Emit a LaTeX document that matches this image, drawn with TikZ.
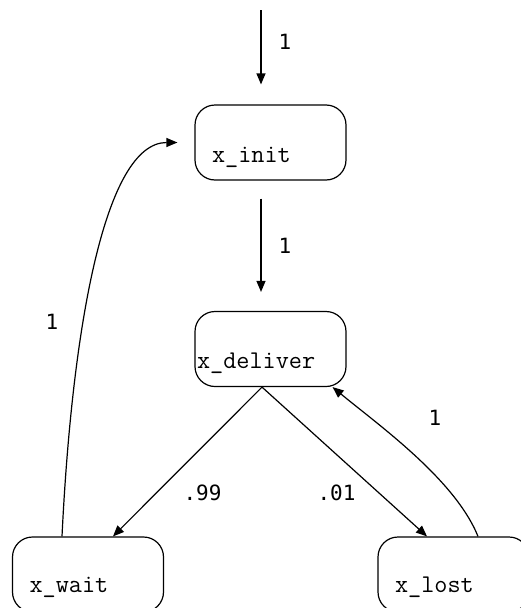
\documentclass[tikz,border=0pt]{standalone}
\usepackage{fontspec}
\usepackage{tikz}
\usetikzlibrary{calc,arrows.meta}
\newfontfamily\probfont{DejaVu Sans Mono}

\begin{document}
\begin{tikzpicture}[x=1pt,y=-1pt,line width=1.2pt,>={Triangle[length=11pt,width=9pt]}]
        \useasboundingbox (0,0) rectangle (520,608);
        \tikzstyle{statebox}=[draw,rectangle,rounded corners=20pt,minimum width=151pt,minimum height=75pt,inner sep=0pt]
        \tikzstyle{statetext}=[anchor=base west,inner sep=0pt,font=\ttfamily\fontsize{25.5}{30}\selectfont]
        \tikzstyle{prob}=[inner sep=0pt,font=\probfont\fontsize{21}{25}\selectfont]

        \node[statebox] (init) at (270.5,142.5) {};
        \node[statebox] (deliver) at (270.5,349) {};
        \node[statebox] (wait) at (88,574.5) {};
        \node[statebox] (lost) at (453.5,574.5) {};

        \node[statetext] (inittext) at ($(init.south west)+(17,-18)$) {x\_init};
        \node[statetext] (delivertext) at ($(deliver.south west)+(2,-19)$) {x\_deliver};
        \node[statetext] (waittext) at ($(wait.south west)+(17,-20)$) {x\_wait};
        \node[statetext] (losttext) at ($(lost.south west)+(17,-20)$) {x\_lost};

        \coordinate (entry) at (261,10);
        \draw[->,shorten >=20pt] (entry) -- (init.north -| entry);
        \draw[->,shorten <=18pt,shorten >=19pt] (init.south -| entry) -- (deliver.north -| entry);

        \draw[->] ($(deliver.south)+(-8.5,0)$) -- ($(wait.north)+(25,0)$);
        \draw[->] ($(deliver.south)+(-8.5,0)$) -- ($(lost.north)+(-26.5,0)$);
        \draw[->] ($(lost.north)+(24.5,0)$) .. controls +(-23,-57) and +(46,38) .. ($(deliver.south east)+(-14,0)$);
        \draw[->,shorten >=17pt] ($(wait.north)+(-26,0)$) .. controls +(10,-207) and +(-90,0) .. (init.west);

        \node[prob] (p1) at (285,42) {1};
        \node[prob] (p2) at (285,246) {1};
        \node[prob] (p3) at (52,322) {1};
        \node[prob] (p4) at (435,418) {1};
        \node[prob,anchor=base west] (p5) at (183,500) {.99};
        \node[prob,anchor=base west] (p6) at (317,500) {.01};
    \end{tikzpicture}
\end{document}
